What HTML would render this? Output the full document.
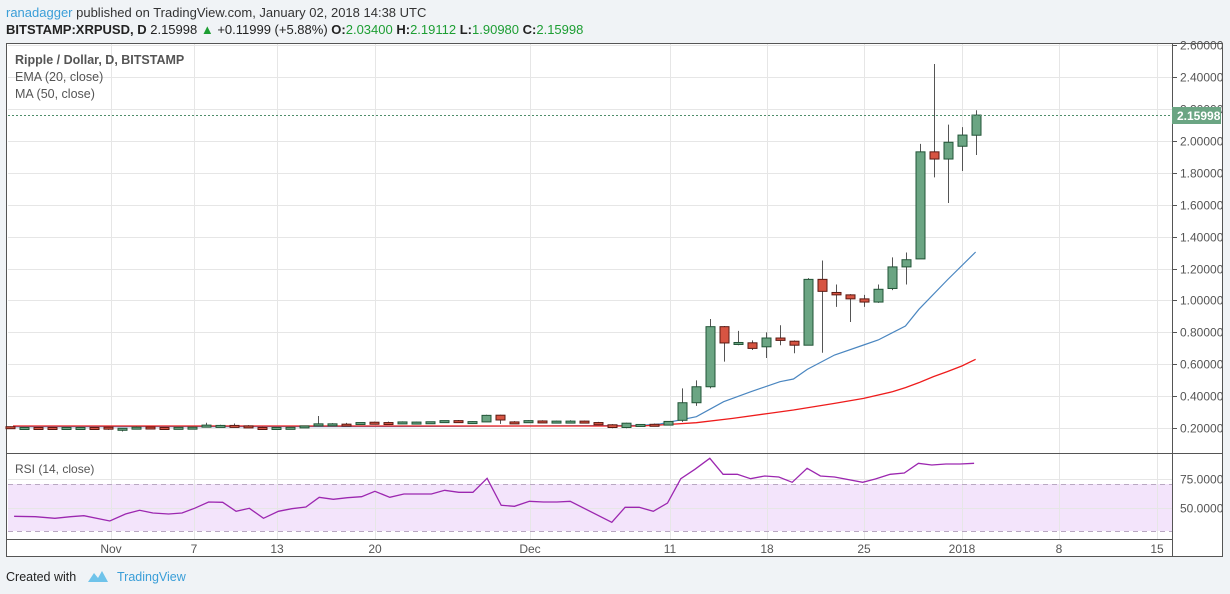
<!DOCTYPE html>
<html><head><meta charset="utf-8"><style>
body{margin:0;background:#f0f3f6;font-family:"Liberation Sans",sans-serif;}
svg{display:block}
</style></head><body>
<svg id="s" width="1230" height="594" xmlns="http://www.w3.org/2000/svg" font-family="Liberation Sans, sans-serif">
<rect width="1230" height="594" fill="#f0f3f6"/>
<text x="6" y="17" font-size="13" fill="#333"><tspan fill="#3a9ed8">ranadagger</tspan> published on TradingView.com, January 02, 2018 14:38 UTC</text>
<text x="6" y="34" font-size="13" fill="#222"><tspan font-weight="bold">BITSTAMP:XRPUSD, D</tspan>  2.15998 <tspan fill="#1d9e33">▲</tspan> +0.11999 (+5.88%) <tspan font-weight="bold">O:</tspan><tspan fill="#1d9e33">2.03400</tspan> <tspan font-weight="bold">H:</tspan><tspan fill="#1d9e33">2.19112</tspan> <tspan font-weight="bold">L:</tspan><tspan fill="#1d9e33">1.90980</tspan> <tspan font-weight="bold">C:</tspan><tspan fill="#1d9e33">2.15998</tspan></text>
<rect x="6.5" y="43.5" width="1216" height="513" fill="#fff" stroke="#555"/>
<rect x="8" y="484" width="1164" height="47" fill="#f3e4fb"/>
<g id="grid" stroke="#e6e6e6" stroke-width="1"></g>
<line x1="8" y1="484.5" x2="1172" y2="484.5" stroke="#b9a8c2" stroke-dasharray="5,4"/>
<line x1="8" y1="531.5" x2="1172" y2="531.5" stroke="#b9a8c2" stroke-dasharray="5,4"/>
<line x1="7" y1="453.5" x2="1222" y2="453.5" stroke="#555"/>
<line x1="7" y1="539.5" x2="1172" y2="539.5" stroke="#555"/>
<line x1="1172.5" y1="44" x2="1172.5" y2="556" stroke="#555"/>
<g id="ax" font-size="12" fill="#555"></g>
<polyline id="ema" fill="none" stroke="#4a86c0" stroke-width="1.2"/>
<polyline id="ma" fill="none" stroke="#ee1c1c" stroke-width="1.3"/>
<g id="cs"></g>
<polyline id="rsi" fill="none" stroke="#9c27b0" stroke-width="1.3"/>
<line x1="8" y1="115.5" x2="1172" y2="115.5" stroke="#4f8d6a" stroke-dasharray="2,2"/>
<rect x="1172" y="107" width="49" height="17" fill="#6ba583"/>
<text x="1177" y="120" font-size="12" font-weight="bold" fill="#fff">2.15998</text>
<text x="15" y="64" font-size="12.5" font-weight="bold" fill="#555">Ripple / Dollar, D, BITSTAMP</text>
<text x="15" y="81" font-size="12.5" fill="#555">EMA (20, close)</text>
<text x="15" y="98" font-size="12.5" fill="#555">MA (50, close)</text>
<text x="15" y="473" font-size="12" fill="#555">RSI (14, close)</text>
<text x="6" y="581" font-size="12.5" fill="#222">Created with</text>
<path d="M88 582 l6 -9 l4 5 l4 -7 l6 11 z" fill="#6fc3ea"/>
<text x="117" y="581" font-size="12.5" fill="#3a9ed8">TradingView</text>
</svg>
<script>
const NS="http://www.w3.org/2000/svg";
function el(p,t,a,txt){const e=document.createElementNS(NS,t);for(const k in a)e.setAttribute(k,a[k]);if(txt)e.textContent=txt;document.getElementById(p).appendChild(e);return e;}
const Y=p=>428.3-(p-0.2)*159.8;
const X=i=>10+14*i;
const vx=[111,194,277,375,530,670,767,864,962,1059,1157];
vx.forEach(x=>el("grid","line",{x1:x+.5,x2:x+.5,y1:44,y2:539}));
for(let k=0;k<13;k++){const p=0.2+0.2*k,y=Math.round(Y(p))+.5;if(y>44)el("grid","line",{x1:8,x2:1172,y1:y,y2:y});
 el("ax","line",{x1:1172,x2:1177,y1:y,y2:y,stroke:"#555"});
 if(y>40)el("ax","text",{x:1180,y:y+4},p.toFixed(5));}
[[479.5,"75.0000"],[508.5,"50.0000"]].forEach(([y,t])=>{el("grid","line",{x1:8,x2:1172,y1:y,y2:y});el("ax","text",{x:1180,y:y+4},t);});
[["Nov",111],["7",194],["13",277],["20",375],["Dec",530],["11",670],["18",767],["25",864],["2018",962],["8",1059],["15",1157]].forEach(([t,x])=>el("ax","text",{x:x,y:553,"text-anchor":"middle"},t));
const early=[
[.21,.212,.202,.205],[.205,.207,.203,.205],[.205,.207,.203,.204],[.205,.206,.203,.204],[.204,.206,.202,.205],[.204,.206,.202,.205],[.205,.207,.202,.204],
[.207,.209,.19,.199],[.193,.202,.18,.2],[.2,.212,.197,.207],[.208,.21,.203,.204],[.205,.207,.202,.204],[.203,.207,.2,.206],[.204,.209,.2,.207],
[.207,.235,.205,.22],[.214,.222,.21,.218],[.218,.23,.214,.213],[.215,.22,.21,.207],[.205,.21,.19,.2],[.198,.206,.195,.205],[.206,.208,.2,.206],
[.207,.21,.203,.215],[.215,.277,.213,.228],[.222,.232,.22,.228],[.226,.234,.222,.222],[.224,.232,.222,.236],[.238,.242,.234,.236],[.236,.242,.231,.234],
[.234,.243,.23,.24],[.238,.242,.234,.239],[.235,.242,.233,.241],[.239,.244,.237,.248],[.248,.252,.245,.243],[.24,.244,.237,.242],[.24,.285,.24,.281],
[.282,.285,.228,.252],[.24,.245,.232,.238],[.235,.25,.233,.248],[.246,.25,.242,.242],[.24,.248,.236,.245],[.244,.25,.24,.245],[.245,.249,.238,.237],
[.236,.24,.22,.222],[.222,.226,.2,.205],[.205,.235,.2,.232],[.222,.227,.218,.224],[.225,.23,.22,.219],[.22,.245,.218,.243]];
const late=[[.25,.45,.24,.36],[.36,.5,.34,.46],[.46,.884,.45,.836],[.836,.84,.617,.734],[.733,.81,.72,.737],[.735,.75,.69,.70],[.71,.80,.64,.765],[.765,.845,.72,.75],[.745,.75,.67,.72],
[.72,1.14,.72,1.132],[1.132,1.25,.673,1.057],[1.05,1.10,.96,1.035],[1.035,1.04,.865,1.01],[1.01,1.035,.96,.99],[.99,1.10,.985,1.07],[1.075,1.27,1.065,1.21],[1.21,1.30,1.10,1.255],
[1.26,1.98,1.26,1.93],[1.93,2.48,1.77,1.885],[1.885,2.10,1.61,1.99],[1.965,2.085,1.81,2.035],[2.034,2.19,1.91,2.16]];
const data=early.concat(late);
data.forEach((d,i)=>{const [o,h,l,c]=d,x=X(i),up=c>=o;
 el("cs","line",{x1:x+.5,x2:x+.5,y1:Y(h),y2:Y(l),stroke:"#555"});
 let t=Y(Math.max(o,c)),b=Y(Math.min(o,c));if(b-t<2){b=t+2;}
 el("cs","rect",{x:x-4,y:t,width:9,height:b-t,fill:up?"#6ba583":"#d75442",stroke:up?"#225437":"#5b1a13"});});
const ez=[[0,1122],[100,1100],[175,1055],[250,1025],[330,995],[367,987],[405,958],[480,915],[560,885],[600,870],[675,828],[712,778],[790,690],[868,606]];
const mz=[[0,1125],[100,1118],[200,1105],[300,1090],[367,1080],[480,1060],[560,1045],[640,1025],[675,1013],[712,998],[752,980],[790,965],[830,948],[868,928]];
const cv=a=>a.map(([x,y])=>[660+x/2.75,50+y/3]);
const e=[[13,426.8],[400,426.5],[640,425.5]].concat(cv(ez));
const m=[[13,426],[400,426],[640,426]].concat(cv(mz));
document.getElementById("ema").setAttribute("points",e.map(p=>p.join(",")).join(" "));
document.getElementById("ma").setAttribute("points",m.map(p=>p.join(",")).join(" "));
const rz=[[18,229],[45,230],[70,235],[90,230],[107,227],[140,243],[160,222],[178,211],[195,219],[215,222],[232,219],[248,205],[266,186],[284,187],[301,214],[318,205],[336,235],[355,214],[372,206],[390,201],[407,172],[425,178],[443,173],[461,170],[478,154],[497,172],[515,162],[550,162],[567,151],[585,157],[603,157],[621,115],[639,196],[656,199],[675,184],[693,186],[710,186],[727,184],[780,247],[797,202],[815,202],[833,214],[851,189],[868,116],[886,88],[905,55],[922,103],[940,103],[957,116],[975,108],[993,111],[1010,127],[1029,85],[1046,108],[1064,111],[1100,127],[1116,117],[1135,103],[1153,99],[1171,70],[1188,75],[1206,72],[1224,72],[1242,70]];
document.getElementById("rsi").setAttribute("points",rz.map(([x,y])=>(x/1.275).toFixed(1)+","+(440+y/3).toFixed(1)).join(" "));
</script>
</body></html>
